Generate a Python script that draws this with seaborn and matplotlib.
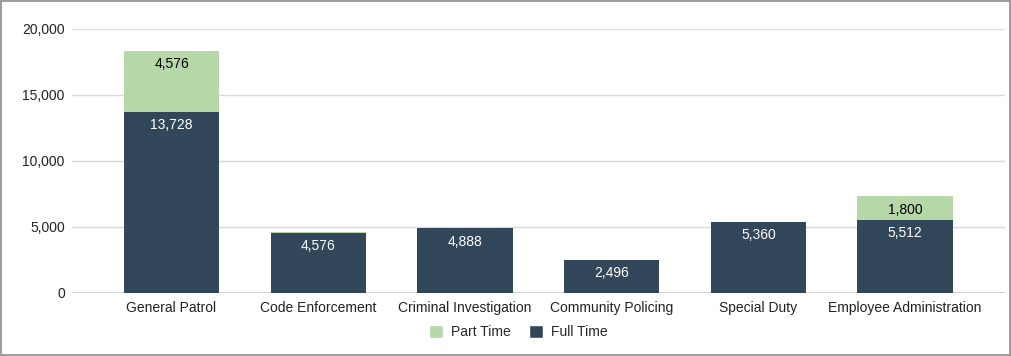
import matplotlib.pyplot as plt
import numpy as np
import pandas as pd
import seaborn as sns
from matplotlib.patches import Patch

categories = ['General Patrol', 'Code Enforcement', 'Criminal Investigation',
              'Community Policing', 'Special Duty', 'Employee Administration']
full_time = [13728, 4576, 4888, 2496, 5360, 5512]
part_time = [4576, 70, 70, 0, 0, 1800]
part_labels = ['4,576', '', '', '', '', '1,800']

dark = '#33475a'
green = '#b6d7a8'

df = pd.DataFrame({'Category': categories, 'Full Time': full_time, 'Part Time': part_time})
df['Total'] = df['Full Time'] + df['Part Time']

sns.set_theme(style='white')
plt.rcParams['font.family'] = ['Liberation Sans', 'DejaVu Sans']

fig = plt.figure(figsize=(10.11, 3.56), dpi=100)
fig.patch.set_edgecolor('#9e9e9e')
fig.patch.set_linewidth(1.5)
ax = fig.add_axes([0.071, 0.177, 0.923, 0.742])

# part time drawn as the full stack, full time on top of it
sns.barplot(data=df, x='Category', y='Total', color=green, width=0.65,
            saturation=1, linewidth=0, ax=ax, zorder=3)
sns.barplot(data=df, x='Category', y='Full Time', color=dark, width=0.65,
            saturation=1, linewidth=0, ax=ax, zorder=4)

for i, row in df.iterrows():
    ax.annotate(f"{row['Full Time']:,}", (i, row['Full Time']), xytext=(0, -9.5),
                textcoords='offset points', ha='center', va='center',
                color='white', fontsize=10, zorder=5)
    if part_labels[i]:
        ax.annotate(part_labels[i], (i, row['Total']), xytext=(0, -9.5),
                    textcoords='offset points', ha='center', va='center',
                    color='black', fontsize=10, zorder=5)

ax.set_ylim(0, 20000)
ax.set_xlim(-0.68, 5.68)
ax.set_yticks(np.arange(0, 20001, 5000))
ax.yaxis.set_major_formatter(plt.FuncFormatter(lambda v, p: f'{int(v):,}'))
ax.grid(axis='y', color='#d9d9d9', linewidth=1, zorder=0)
ax.axhline(0, color='#333333', linewidth=1, zorder=6)
for s in ax.spines.values():
    s.set_visible(False)
ax.set_xlabel('')
ax.set_ylabel('')
ax.tick_params(axis='both', length=0, labelsize=10, colors='#222222')
ax.tick_params(axis='y', pad=5)
ax.tick_params(axis='x', pad=6)

handles = [Patch(facecolor=green, label='Part Time'), Patch(facecolor=dark, label='Full Time')]
fig.legend(handles=handles, loc='center', bbox_to_anchor=(0.513, 0.067), ncol=2,
           frameon=False, fontsize=10, handlelength=1.0, handleheight=1.0,
           columnspacing=1.3, handletextpad=0.6)

fig.savefig('out.png', dpi=100)
